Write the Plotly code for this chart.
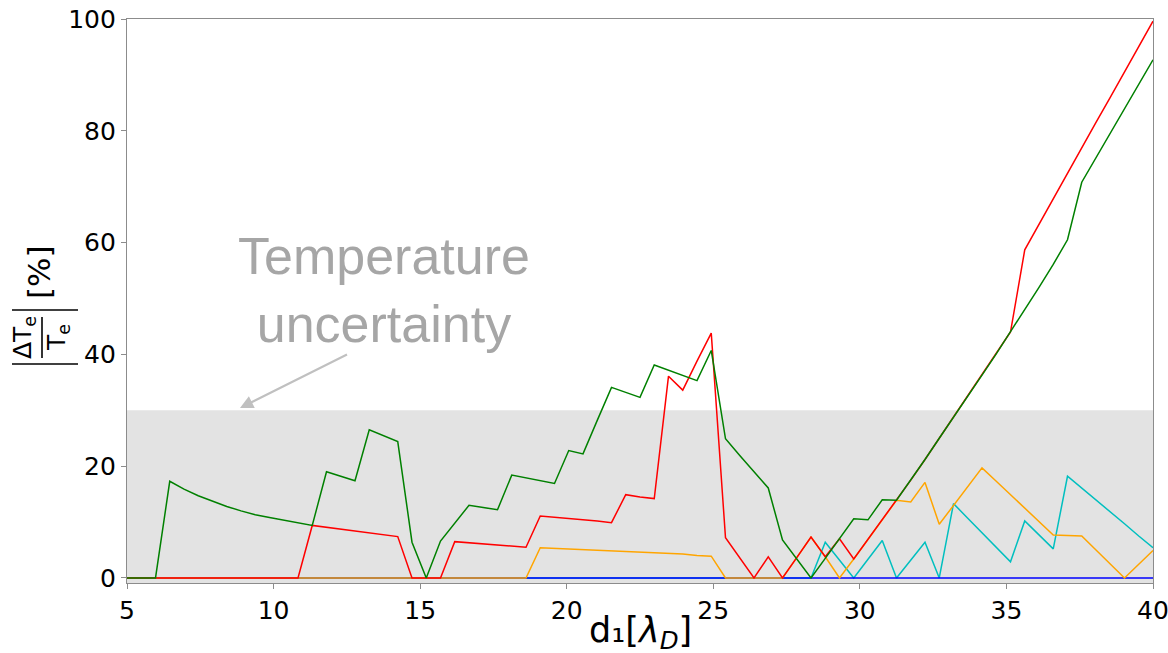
import numpy as np
import plotly.graph_objects as go

# sampling positions d1 (in Debye lengths)
d1 = np.linspace(5, 40, 73)

green = [0, 0, 0, 17.3, 15.9, 14.7, 13.7, 12.8, 12.0, 11.3, 10.8, 10.3, 9.8, 9.4,
         19.0, 18.2, 17.4, 26.5, 25.5, 24.4, 6.4, 0, 6.6, 9.8, 13.0, 12.6, 12.2,
         18.4, 17.9, 17.4, 16.9, 22.8, 22.2, 28.2, 34.1, 33.2, 32.3, 38.1, 37.2,
         36.2, 35.3, 40.7, 24.9, 21.9, 19.0, 16.1, 6.8, 3.4, 0, 3.5, 7.1, 10.6,
         10.4, 14.0, 13.9, 17.5, 21.2, 25.0, 28.7, 32.5, 36.3, 40.1, 44.0, 47.9,
         52.0, 56.1, 60.5, 70.8, 75.2, 79.5, 83.9, 88.3, 92.7]

red = [0] * 13 + [9.4, 9.05, 8.7, 8.4, 8.1, 7.75, 7.4, 0, 0, 0, 6.5, 6.3, 6.1, 5.9,
                  5.7, 5.5, 11.1, 10.9, 10.7, 10.5, 10.2, 9.9, 14.9, 14.5, 14.2,
                  36.1, 33.6, 38.8, 43.8, 7.2, 3.6, 0, 3.8, 0, 3.65, 7.3, 3.8, 7.0,
                  3.4, 6.9, 10.4, 13.9, 17.5, 21.2, 25.0, 28.7, 32.5, 36.3, 40.1,
                  44.0, 58.7, 63.3, 67.8, 72.4, 76.9, 81.5, 86.0, 90.5, 95.1, 99.6]

orange = [0] * 29 + [5.4, 5.3, 5.2, 5.1, 5.0, 4.9, 4.8, 4.7, 4.6, 4.5, 4.3, 4.0, 3.9,
                     0, 0, 0, 0, 0, 3.65, 7.3, 3.8, 0, 3.4, 6.9, 10.4, 13.9, 13.6,
                     17.1, 9.6, 13.0, 16.4, 19.7, 17.3, 14.9, 12.5, 10.1, 7.7, 7.6,
                     7.5, 5.0, 2.5, 0, 2.45, 4.9]

cyan = [0] * 49 + [6.4, 3.2, 0, 3.35, 6.7, 0, 3.2, 6.4, 0, 13.3, 10.7, 8.1, 5.5, 2.9,
                   10.2, 7.7, 5.2, 18.2, 16.1, 13.9, 11.8, 9.7, 7.5, 5.4]

blue = [0] * 73

x_ticks = [5, 10, 15, 20, 25, 30, 35, 40]
y_ticks = [0, 20, 40, 60, 80, 100]
band_top = 30
y_min = -0.9

series = [(cyan, "#00bfbf"), (blue, "#0000ff"), (orange, "#ffa500"),
          (red, "#ff0000"), (green, "#008000")]

fig = go.Figure()
for vals, col in series:
    fig.add_trace(go.Scatter(x=d1, y=vals, mode="lines",
                             line=dict(color=col, width=1.5),
                             showlegend=False, hoverinfo="skip"))

# plot-area pixel geometry, used to place the hand-built labels
W, H = 1168, 653
L, R, T, B = 127, 1153, 19, 583


def px(x):
    return (x - L) / (R - L)


def py(y):
    return (B - y) / (B - T)


fig.add_shape(type="rect", xref="paper", yref="y", x0=0, x1=1, y0=y_min, y1=band_top,
              fillcolor="#e3e3e3", line_width=0, layer="below")

axis_font = dict(family="DejaVu Sans", size=25, color="black")
ann = []
# shaded band label with arrow
ann.append(dict(x=px(384), y=py(290), xref="paper", yref="paper",
                text="Temperature<br>uncertainty", showarrow=False,
                font=dict(family="Liberation Sans", size=52, color="#a6a6a6"),
                xanchor="center", yanchor="middle"))
ann.append(dict(x=px(240), y=py(408), xref="paper", yref="paper",
                text=" ", showarrow=True,
                ax=110, ay=-55, arrowcolor="#c0c0c0", arrowwidth=2.2,
                arrowhead=2, arrowsize=1.2))
# y label: |ΔTe / Te| [%]
ylab_font = dict(family="DejaVu Sans", size=25, color="black")
ann.append(dict(x=px(39), y=py(272), xref="paper", yref="paper", text="[%]",
                textangle=-90, showarrow=False,
                font=dict(family="DejaVu Sans", size=31, color="black"),
                xanchor="center", yanchor="middle"))
ann.append(dict(x=px(24), y=py(338), xref="paper", yref="paper",
                text="ΔT<sub>e</sub>", textangle=-90, showarrow=False, font=ylab_font,
                xanchor="center", yanchor="middle"))
ann.append(dict(x=px(58), y=py(338), xref="paper", yref="paper",
                text="T<sub>e</sub>", textangle=-90, showarrow=False, font=ylab_font,
                xanchor="center", yanchor="middle"))
# x label
ann.append(dict(x=px(640), y=py(632), xref="paper", yref="paper",
                text="d₁[<i>λ</i><sub><i>D</i></sub>]", showarrow=False,
                font=dict(family="DejaVu Sans", size=35, color="black"),
                xanchor="center", yanchor="middle"))

shapes_lbl = [
    dict(x0=px(42), x1=px(42), y0=py(317), y1=py(358)),
    dict(x0=px(12), x1=px(78), y0=py(310), y1=py(310)),
    dict(x0=px(12), x1=px(78), y0=py(364), y1=py(364)),
]
for s in shapes_lbl:
    fig.add_shape(type="line", xref="paper", yref="paper",
                  line=dict(color="black", width=1.6), **s)

fig.update_layout(
    width=W, height=H,
    margin=dict(l=L, r=W - R, t=T, b=H - B, autoexpand=False),
    plot_bgcolor="white", paper_bgcolor="white",
    annotations=ann,
    xaxis=dict(range=[5, 40.0001], tickvals=x_ticks, ticks="outside", ticklen=5,
               tickcolor="#8c8c8c", showline=True, linecolor="#8c8c8c", linewidth=1.3,
               mirror=True, showgrid=False, zeroline=False, tickfont=axis_font,
               automargin=False, ticklabeloverflow="allow"),
    yaxis=dict(range=[y_min, 100.0001], tickvals=y_ticks, ticks="outside", ticklen=5,
               tickcolor="#8c8c8c", showline=True, linecolor="#8c8c8c", linewidth=1.3,
               mirror=True, showgrid=False, zeroline=False, tickfont=axis_font,
               automargin=False, ticklabeloverflow="allow"),
)

fig.write_html("out.html")
